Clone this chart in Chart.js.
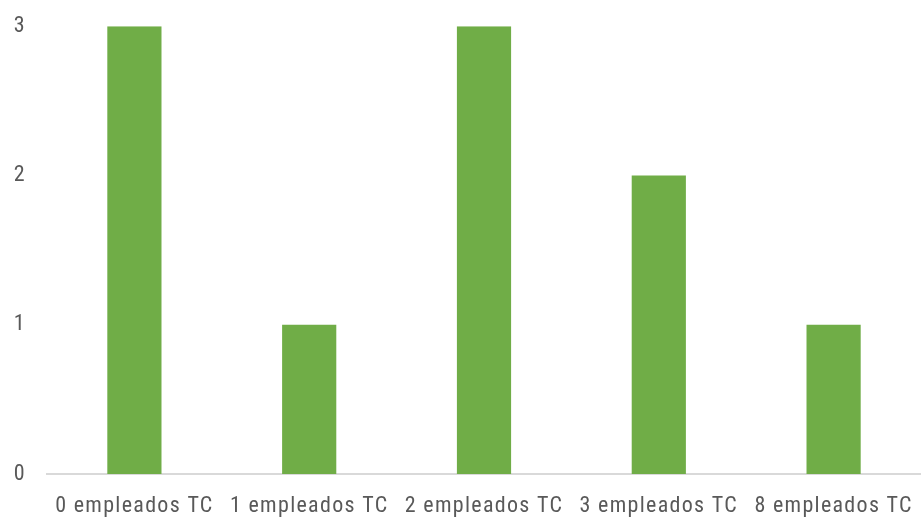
<!DOCTYPE html>
<html>
<head>
<meta charset="utf-8">
<script src="https://cdn.jsdelivr.net/npm/chart.js@4"></script>
<style>
  html, body { margin: 0; padding: 0; background: #fff; }
  #wrap { width: 921px; height: 518px; }
</style>
</head>
<body>
<div id="wrap"><canvas id="myChart"></canvas></div>
<script>
const categories = ["0 empleados TC", "1 empleados TC", "2 empleados TC", "3 empleados TC", "8 empleados TC"];
const counts = [3, 1, 3, 2, 1];
const yTicks = [0, 1, 2, 3];

const labelFont = { family: "'Liberation Sans Narrow', 'Roboto Condensed', Roboto", size: 22 };

const spacing = {
  id: "spacing",
  beforeDraw(chart) {
    chart.ctx.letterSpacing = "1.3px";
  },
};

new Chart(document.getElementById("myChart"), {
  type: "bar",
  data: {
    labels: categories,
    datasets: [
      {
        data: counts,
        backgroundColor: "#70AD47",
        barPercentage: 0.62,
        categoryPercentage: 0.5,
      },
    ],
  },
  options: {
    maintainAspectRatio: false,
    animation: false,
    layout: { padding: { top: -6, right: 0, left: 0, bottom: 0 } },
    scales: {
      y: {
        min: 0,
        max: 3,
        afterBuildTicks: (axis) => {
          axis.ticks = yTicks.map((v) => ({ value: v }));
        },
        afterFit: (axis) => {
          axis.width = 47;
        },
        grid: { display: false },
        border: { display: false },
        ticks: {
          color: "#595959",
          padding: 13,
          font: labelFont,
        },
      },
      x: {
        afterFit: (axis) => {
          axis.height = 44;
        },
        grid: { display: false },
        border: { color: "#D9D9D9", width: 2 },
        ticks: {
          color: "#595959",
          maxRotation: 0,
          autoSkip: false,
          padding: 11,
          font: labelFont,
        },
      },
    },
    plugins: {
      legend: { display: false },
      tooltip: { enabled: false },
    },
  },
  plugins: [spacing],
});
</script>
</body>
</html>
